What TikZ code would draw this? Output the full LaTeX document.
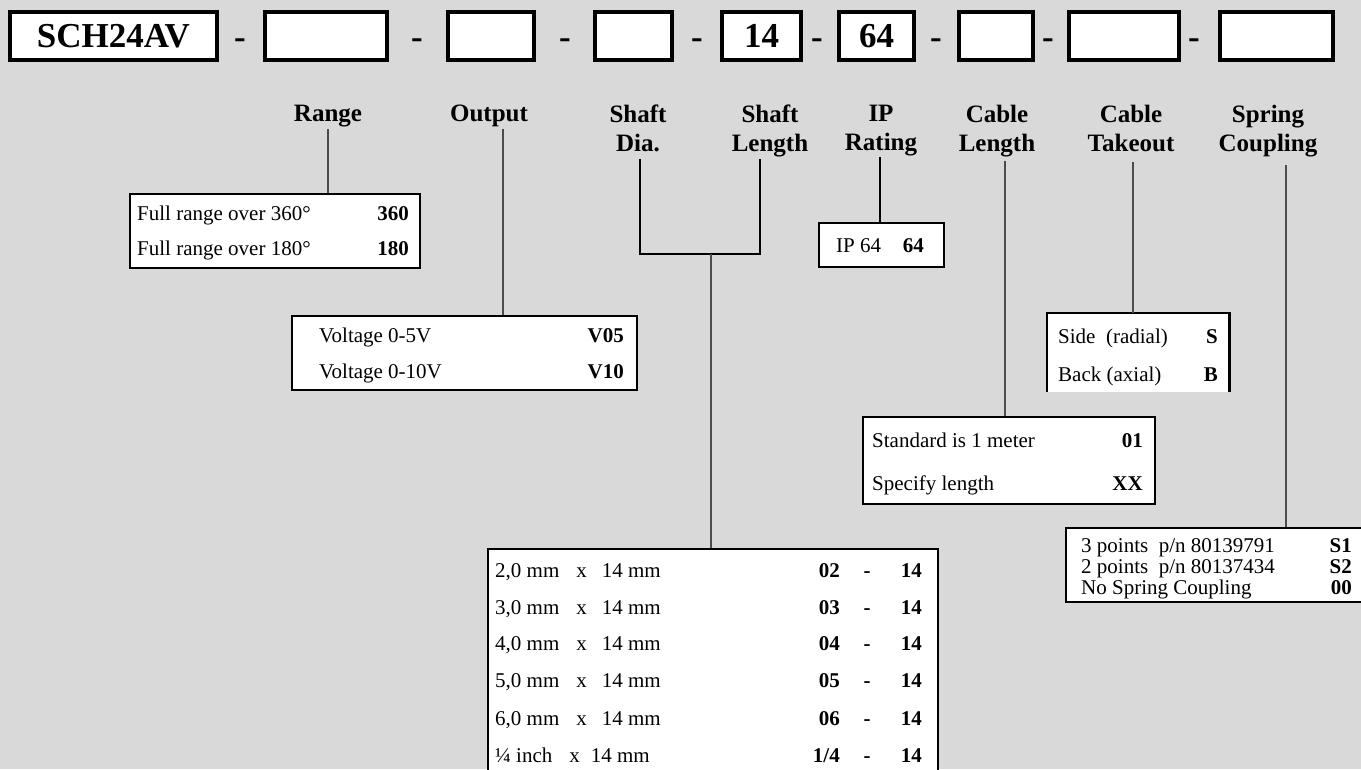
\documentclass[tikz,border=0pt]{standalone}
\usepackage{fontspec}
\setmainfont{Liberation Serif}
\definecolor{bgcol}{HTML}{D9D9D9}
\begin{document}
\begin{tikzpicture}[x=1pt,y=-1pt,
  topbox/.style={draw=black,line width=3.2pt,fill=white,inner sep=0pt,minimum height=48pt,font=\fontsize{35}{40}\selectfont\bfseries},
  dashmark/.style={anchor=base,inner sep=0pt,font=\fontsize{35}{40}\selectfont\bfseries},
  hdr/.style={anchor=north,align=center,inner sep=0pt,font=\fontsize{25}{29}\selectfont\bfseries},
  tbox/.style={draw=black,line width=2.2pt,fill=white,inner sep=0pt,anchor=north west},
  obox/.style={fill=white,inner sep=0pt,anchor=north west},
  bline/.style={draw=black,line width=2.2pt},
  txt/.style={anchor=base west,inner sep=0pt,font=\fontsize{21}{25}\selectfont},
  codetxt/.style={anchor=base east,inner sep=0pt,font=\fontsize{21}{25}\selectfont\bfseries},
  minus/.style={anchor=base,inner sep=0pt,font=\fontsize{21}{25}\selectfont\bfseries},
  conn/.style={draw=black!70,line width=1.5pt},
  connb/.style={draw=black,line width=2pt},
]
\useasboundingbox (0,0) rectangle (1361,769);
\fill[bgcol] (0,0) rectangle (1361,769);

% ---- top code boxes ----
\node[topbox,minimum width=207pt] (t1) at (113.5,36) {SCH24AV};
\node[topbox,minimum width=122pt] (t2) at (326,36) {};
\node[topbox,minimum width=86pt]  (t3) at (491,36) {};
\node[topbox,minimum width=77pt]  (t4) at (633.5,36) {};
\node[topbox,minimum width=79pt]  (t5) at (761.5,36) {14};
\node[topbox,minimum width=75pt]  (t6) at (876.5,36) {64};
\node[topbox,minimum width=74pt]  (t7) at (996,36) {};
\node[topbox,minimum width=110pt] (t8) at (1124,36) {};
\node[topbox,minimum width=113pt] (t9) at (1276.5,36) {};
\node[dashmark] (d1) at (240,48) {-};
\node[dashmark] (d2) at (417,48) {-};
\node[dashmark] (d3) at (565,48) {-};
\node[dashmark] (d4) at (697,48) {-};
\node[dashmark] (d5) at (817,48) {-};
\node[dashmark] (d6) at (936,48) {-};
\node[dashmark] (d7) at (1048,48) {-};
\node[dashmark] (d8) at (1194,48) {-};

% ---- headers ----
\node[hdr] (hRange)  at (328,104.5)  {Range};
\node[hdr] (hOutput) at (489,104.5)  {Output};
\node[hdr] (hDia)    at (638,104.5)  {Shaft\\Dia.};
\node[hdr] (hLen)    at (770,104.5)  {Shaft\\Length};
\node[hdr] (hIP)     at (881,104.5)  {IP\\Rating};
\node[hdr] (hCable)  at (997,104.5)  {Cable\\Length};
\node[hdr] (hTake)   at (1131,104.5) {Cable\\Takeout};
\node[hdr] (hSpring) at (1268,104.5) {Spring\\Coupling};

% ---- option boxes ----
\node[tbox,minimum width=290pt,minimum height=74pt] (bRange) at (129,193) {};
\node[tbox,minimum width=345pt,minimum height=74pt] (bOut) at (291,315) {};
\node[tbox,minimum width=125pt,minimum height=44pt] (bIP) at (818,222) {};
\node[tbox,minimum width=292pt,minimum height=87pt] (bCable) at (862,416) {};
\node[obox,minimum width=182pt,minimum height=79pt] (bTake) at (1047,313) {};
\draw[bline] (bTake.south west) -- (bTake.north west) -- (bTake.north east) -- (bTake.south east);
\node[tbox,minimum width=310pt,minimum height=74pt] (bSpring) at (1065,527) {};
\node[tbox,minimum width=450pt,minimum height=250pt] (bShaft) at (487,548) {};

% ---- connectors ----
\coordinate (sRange)  at ([yshift=-2.6pt]hRange.south);
\coordinate (sOutput) at ([xshift=14pt,yshift=-2.6pt]hOutput.south);
\coordinate (sDia)    at ([xshift=2pt,yshift=-7pt]hDia.south);
\coordinate (sLen)    at ([xshift=-10pt,yshift=-1.6pt]hLen.south);
\coordinate (sIP)     at ([xshift=-1pt,yshift=-1.6pt]hIP.south);
\coordinate (sCable)  at ([xshift=8pt,yshift=-4.6pt]hCable.south);
\coordinate (sTake)   at ([xshift=2pt,yshift=-10pt]hTake.south);
\coordinate (sSpring) at ([xshift=18pt,yshift=-8.6pt]hSpring.south);
\coordinate (brk) at (711,254);

\draw[conn] (sRange) -- (sRange |- bRange.north);
\draw[conn] (sOutput) -- (sOutput |- bOut.north);
\draw[connb] (sDia) -- (sDia |- brk) -- (sLen |- brk) -- (sLen);
\draw[conn] (brk) -- (brk |- bShaft.north);
\draw[connb] (sIP) -- (sIP |- bIP.north);
\draw[conn] (sCable) -- (sCable |- bCable.north);
\draw[conn] (sTake) -- (sTake |- bTake.north);
\draw[conn] (sSpring) -- (sSpring |- bSpring.north);

% ---- box contents ----
\node[txt] (r1) at (137,220) {Full range over 360°};
\node[codetxt] (r1c) at (409,220) {360};
\node[txt] (r2) at (137,255) {Full range over 180°};
\node[codetxt] (r2c) at (409,255) {180};

\node[txt] (o1) at (319,342) {Voltage 0-5V};
\node[codetxt] (o1c) at (624,342) {V05};
\node[txt] (o2) at (319,378) {Voltage 0-10V};
\node[codetxt] (o2c) at (624,378) {V10};

\node[txt] (ip1) at (836,252) {IP 64};
\node[codetxt] (ip1c) at (924,252) {64};

\node[txt] (c1) at (872,447) {Standard is 1 meter};
\node[codetxt] (c1c) at (1143,447) {01};
\node[txt] (c2) at (872,490) {Specify length};
\node[codetxt] (c2c) at (1143,490) {XX};

\node[txt] (k1) at (1058,343) {Side~~(radial)};
\node[codetxt] (k1c) at (1218,343) {S};
\node[txt] (k2) at (1058,381) {Back (axial)};
\node[codetxt] (k2c) at (1218,381) {B};

\node[txt] (s1) at (1081,552) {3 points~~p/n 80139791};
\node[codetxt] (s1c) at (1352,552) {S1};
\node[txt] (s2) at (1081,573) {2 points~~p/n 80137434};
\node[codetxt] (s2c) at (1352,573) {S2};
\node[txt] (s3) at (1081,594) {No Spring Coupling};
\node[codetxt] (s3c) at (1352,594) {00};

\node[txt] (sh1) at (495,577) {2,0 mm\hspace{17pt}x\hspace{15pt}14 mm};
\node[codetxt] (sh1c) at (840,577) {02};
\node[minus] (sh1d) at (867,577) {-};
\node[codetxt] (sh1e) at (922,577) {14};

\node[txt] (sh2) at (495,614) {3,0 mm\hspace{17pt}x\hspace{15pt}14 mm};
\node[codetxt] (sh2c) at (840,614) {03};
\node[minus] (sh2d) at (867,614) {-};
\node[codetxt] (sh2e) at (922,614) {14};

\node[txt] (sh3) at (495,650) {4,0 mm\hspace{17pt}x\hspace{15pt}14 mm};
\node[codetxt] (sh3c) at (840,650) {04};
\node[minus] (sh3d) at (867,650) {-};
\node[codetxt] (sh3e) at (922,650) {14};

\node[txt] (sh4) at (495,687) {5,0 mm\hspace{17pt}x\hspace{15pt}14 mm};
\node[codetxt] (sh4c) at (840,687) {05};
\node[minus] (sh4d) at (867,687) {-};
\node[codetxt] (sh4e) at (922,687) {14};

\node[txt] (sh5) at (495,725) {6,0 mm\hspace{17pt}x\hspace{15pt}14 mm};
\node[codetxt] (sh5c) at (840,725) {06};
\node[minus] (sh5d) at (867,725) {-};
\node[codetxt] (sh5e) at (922,725) {14};

\node[txt] (sh6) at (495,762) {¼ inch\hspace{17pt}x\hspace{11pt}14 mm};
\node[codetxt] (sh6c) at (840,762) {1/4};
\node[minus] (sh6d) at (867,762) {-};
\node[codetxt] (sh6e) at (922,762) {14};
\end{tikzpicture}
\end{document}
